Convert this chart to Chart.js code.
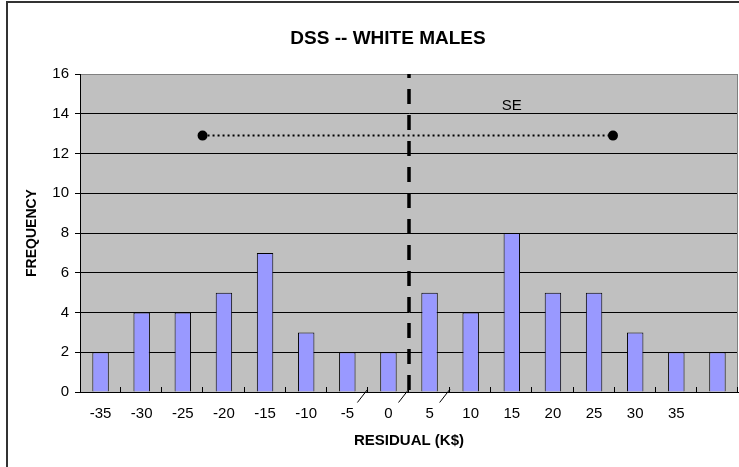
<!DOCTYPE html>
<html>
<head>
<meta charset="utf-8">
<script src="https://cdn.jsdelivr.net/npm/chart.js@4.4.1/dist/chart.umd.min.js"></script>
<style>
    html, body { margin: 0; padding: 0; background: #fff; }
    #wrap { position: relative; width: 739px; height: 467px; overflow: hidden; }
    #chart { position: absolute; left: 0; top: 0; }
    #title {
        position: absolute; left: 188px; width: 400px; top: 27px;
        text-align: center; font: bold 19px "Liberation Sans", Arial, sans-serif; color: #000;
    }
</style>
</head>
<body>
<div id="wrap">
    <canvas id="chart" width="739" height="467"></canvas>
    <div id="title">DSS -- WHITE MALES</div>
</div>
<script>
// Histogram data (residual bins in K$)
const categories = ['-35', '-30', '-25', '-20', '-15', '-10', '-5', '0', '5', '10', '15', '20', '25', '30', '35', ''];
const frequency = [2, 4, 4, 5, 7, 3, 2, 2, 5, 4, 8, 5, 5, 3, 2, 2];
const yMin = 0, yMax = 16, yStep = 2;

// SE bar (in bin units along the axis) and the dashed mean line
const seX = [2.98, 12.96];
const seY = 12.9;
const meanX = [8, 8];
const meanY = [16, 0];
const seLabelAt = [10.5, 14.4];
const slashAt = [7, 8, 9];

const FONT = '"Liberation Sans", Arial, sans-serif';

const decor = {
    id: 'decor',
    beforeDraw(chart) {
        const { ctx, chartArea: a } = chart;
        ctx.save();
        // outer frame (left + top only visible)
        ctx.fillStyle = '#333';
        ctx.fillRect(6, 1, 2, 466);
        ctx.fillRect(6, 1, 733, 2);
        // plot area
        ctx.fillStyle = '#C0C0C0';
        ctx.fillRect(a.left, a.top, a.right - a.left, a.bottom - a.top);
        ctx.restore();
    },
    afterDraw(chart) {
        const { ctx, chartArea: a } = chart;
        const xl = chart.scales.xl, y = chart.scales.y;
        ctx.save();
        // right border of plot
        ctx.strokeStyle = '#808080';
        ctx.lineWidth = 1;
        ctx.beginPath();
        ctx.moveTo(a.right - 0.5, a.top);
        ctx.lineTo(a.right - 0.5, a.bottom);
        ctx.stroke();
        // inside tick marks at bin boundaries
        ctx.strokeStyle = '#000';
        ctx.beginPath();
        for (let k = 1; k <= categories.length; k++) {
            const px = Math.round(xl.getPixelForValue(k)) - 0.5;
            ctx.moveTo(px, a.bottom);
            ctx.lineTo(px, a.bottom - 5);
        }
        ctx.stroke();
        // little slashes under the axis
        ctx.beginPath();
        slashAt.forEach(k => {
            const px = xl.getPixelForValue(k);
            ctx.moveTo(px, a.bottom - 3);
            ctx.lineTo(px - 10.5, a.bottom + 10.5);
        });
        ctx.stroke();
        // SE label
        ctx.fillStyle = '#000';
        ctx.font = '15px ' + FONT;
        ctx.textAlign = 'center';
        ctx.textBaseline = 'middle';
        ctx.fillText('SE', xl.getPixelForValue(seLabelAt[0]), y.getPixelForValue(seLabelAt[1]));
        ctx.restore();
    }
};

new Chart(document.getElementById('chart'), {
    type: 'bar',
    data: {
        labels: categories,
        datasets: [
            {
                type: 'line',
                xAxisID: 'xl',
                data: meanX.map((v, i) => ({ x: v, y: meanY[i] })),
                borderColor: '#000',
                borderWidth: 3.5,
                borderDash: [15, 11],
                borderDashOffset: 11,
                pointRadius: 0,
                order: 0
            },
            {
                type: 'line',
                xAxisID: 'xl',
                data: seX.map(v => ({ x: v, y: seY })),
                borderColor: '#000',
                borderWidth: 2,
                borderDash: [2, 3],
                pointRadius: 4,
                pointBackgroundColor: '#000',
                pointBorderColor: '#000',
                order: 1
            },
            {
                xAxisID: 'x',
                data: frequency,
                backgroundColor: '#9999FF',
                borderColor: '#000',
                borderWidth: 1,
                grouped: false,
                barPercentage: 0.4,
                categoryPercentage: 1,
                order: 2
            }
        ]
    },
    options: {
        responsive: false,
        animation: false,
        layout: { autoPadding: false, padding: { left: 20, right: 1, top: 74, bottom: 0 } },
        plugins: { legend: { display: false }, tooltip: { enabled: false } },
        scales: {
            x: {
                offset: true,
                grid: { display: false },
                border: { display: true, color: '#000', width: 1 },
                ticks: { color: '#000', font: { family: FONT, size: 15 }, padding: 5, autoSkip: false, maxRotation: 0 },
                title: { display: true, text: 'RESIDUAL (K$)', color: '#000', font: { family: FONT, size: 15, weight: 'bold' }, padding: { top: 0, bottom: 17 } },
                afterFit(s) { s.height = 75; }
            },
            xl: {
                type: 'linear',
                display: false,
                min: 0,
                max: categories.length,
                offset: false
            },
            y: {
                min: yMin,
                max: yMax,
                grid: {
                    color: ctx => ctx.tick && ctx.tick.value === yMax ? '#808080' : '#000',
                    tickColor: '#000',
                    tickLength: 5
                },
                border: { display: true, color: '#000', width: 1 },
                ticks: { stepSize: yStep, color: '#000', font: { family: FONT, size: 15 }, padding: 6 },
                title: { display: true, text: 'FREQUENCY', color: '#000', font: { family: FONT, size: 14, weight: 'bold' }, padding: { top: 4, bottom: 0 } },
                afterFit(s) { s.width = 60; }
            }
        }
    },
    plugins: [decor]
});
</script>
</body>
</html>
